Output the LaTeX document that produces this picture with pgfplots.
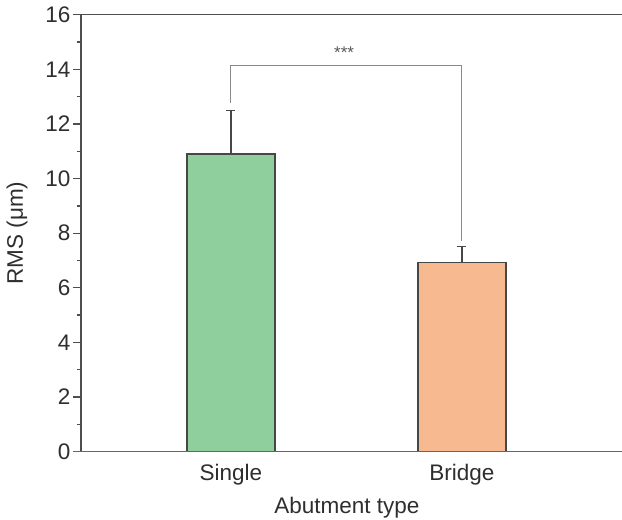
\documentclass[border=0pt]{standalone}
\usepackage{pgfplots}
\pgfplotsset{compat=1.18}
\usepackage{fontspec}
\setmainfont{Liberation Sans}
\definecolor{barGreen}{HTML}{8FCE9D}
\definecolor{barOrange}{HTML}{F7BA90}
\definecolor{edge}{HTML}{474747}
\definecolor{spine}{HTML}{4E4E4E}
\definecolor{bracket}{HTML}{8A8A8A}
\begin{document}
\begin{tikzpicture}
\begin{axis}[
  scale only axis, width=541pt, height=437pt,
  xmin=-0.649, xmax=1.693, ymin=0, ymax=16,
  axis line style={draw=none},
  xtick={0,1}, xticklabels={Single,Bridge},
  xtick style={draw=none},
  ytick={0,2,...,16}, minor y tick num=1, ytick pos=left,
  tick align=outside, major tick length=8pt, minor tick length=4pt,
  every tick/.style={draw=spine, line width=1.3pt},
  tick label style={font=\fontsize{22.5}{22.5}\selectfont, text=black!82},
  /pgf/number format/assume math mode=true,
  yticklabel style={anchor=east, xshift=1pt},
  xticklabel style={anchor=north, yshift=-1pt},
  ylabel={RMS (μm)},
  ylabel style={font=\fontsize{22.5}{22.5}\selectfont, text=black!82, at={(rel axis cs:0,0.5)}, anchor=center, yshift=64pt},
  xlabel={Abutment type},
  xlabel style={font=\fontsize{22.5}{22.5}\selectfont, text=black!82, at={(rel axis cs:0.4916,0)}, anchor=base, yshift=-62pt},
  clip=false,
]
\addplot[ybar, bar shift=0pt, bar width=88pt, fill=barGreen, draw=edge, line width=1.2pt,
  error bars/.cd, y dir=plus, y explicit,
  error bar style={draw=edge, line width=1.3pt},
  error mark options={rotate=90, mark size=4.5pt, draw=edge, line width=1.3pt}]
  coordinates {(0,10.9) +- (0,1.6)};
\addplot[ybar, bar shift=0pt, bar width=88pt, fill=barOrange, draw=edge, line width=1.2pt,
  error bars/.cd, y dir=plus, y explicit,
  error bar style={draw=edge, line width=1.3pt},
  error mark options={rotate=90, mark size=4.5pt, draw=edge, line width=1.3pt}]
  coordinates {(1,6.92) +- (0,0.6)};
\draw[bracket, line width=1.1pt] (axis cs:0,12.78) -- (axis cs:0,14.15) -- (axis cs:1,14.15) -- (axis cs:1,7.7);
\node[text=black!65, font=\fontsize{17}{17}\selectfont] at (axis cs:0.49,14.62) {***};
\draw[spine, line width=1.5pt] ([xshift=-8pt]rel axis cs:0,1) -- (rel axis cs:1,1);
\draw[spine, line width=1.3pt] (rel axis cs:0,0) -- (rel axis cs:0,1);
\draw[black!60, line width=1.3pt] ([xshift=-8pt]rel axis cs:0,0) -- (rel axis cs:1,0);
\end{axis}
\pgfresetboundingbox
\path ([shift={(-81pt,-67.5pt)}]current axis.south west) rectangle ([shift={(0pt,14.7pt)}]current axis.north east);
\end{tikzpicture}
\end{document}
